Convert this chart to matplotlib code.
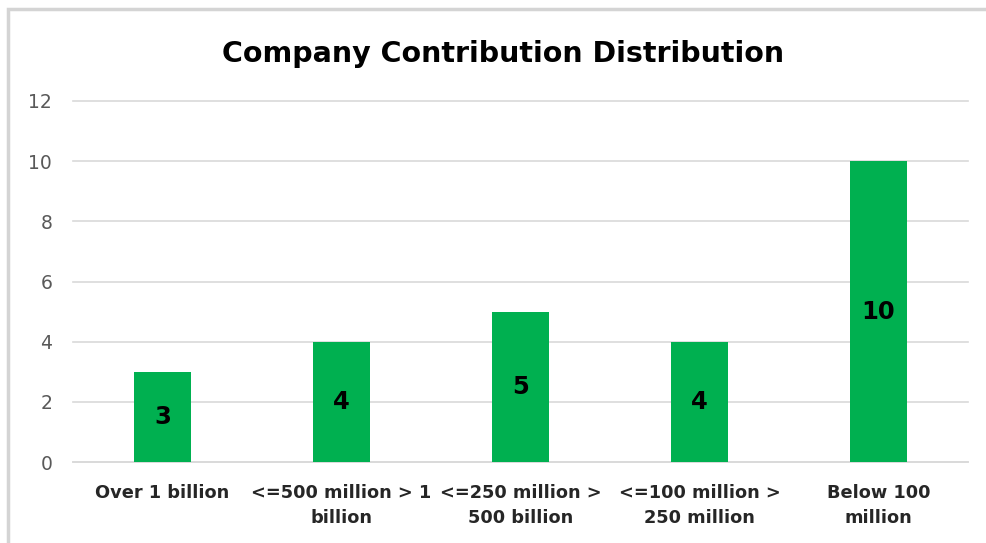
import matplotlib
matplotlib.use('Agg')
import matplotlib.pyplot as plt
from matplotlib.patches import Rectangle

# Data
categories = ['Over 1 billion', '<=500 million > 1\nbillion',
              '<=250 million >\n500 billion', '<=100 million >\n250 million',
              'Below 100\nmillion']
counts = [3, 4, 5, 4, 10]
y_ticks = [0, 2, 4, 6, 8, 10, 12]

bar_color = '#00B050'
grid_color = '#d9d9d9'

plt.rcParams['font.family'] = ['DejaVu Sans']

fig = plt.figure(figsize=(9.86, 5.43), dpi=100)
ax = fig.add_axes([73 / 986, 1 - 462 / 543, 895 / 986, 361 / 543])

x = range(len(categories))
bars = ax.bar(x, counts, width=0.32, color=bar_color, zorder=3)

for rect, v in zip(bars, counts):
    ax.text(rect.get_x() + rect.get_width() / 2, v / 2, str(v),
            ha='center', va='center', fontsize=17.5, fontweight='bold',
            color='black', zorder=4)

ax.set_xlim(-0.5, len(categories) - 0.5)
ax.set_ylim(0, 12)
ax.set_yticks(y_ticks)
ax.set_xticks(list(x))
ax.set_xticklabels(categories, fontsize=12.8, fontweight='bold',
                   color='#262626', linespacing=1.45)
ax.tick_params(axis='x', length=0, pad=16)
ax.tick_params(axis='y', length=0, pad=15, labelsize=13.5, labelcolor='#595959')

ax.grid(axis='y', color=grid_color, linewidth=1.2, zorder=0)
# keep the top gridline from being half clipped at the axes edge
for gl in ax.get_ygridlines():
    gl.set_clip_on(False)
for side in ['top', 'right', 'left']:
    ax.spines[side].set_visible(False)
ax.spines['bottom'].set_color(grid_color)
ax.spines['bottom'].set_linewidth(1.2)

fig.text(503 / 986, 1 - 62 / 543, 'Company Contribution Distribution',
         ha='center', va='baseline', fontsize=20.5, fontweight='bold',
         color='black')

# outer chart frame
fig.patches.append(Rectangle((8 / 986, -0.05), 1.2, 1 - 9 / 543 + 0.05,
                             transform=fig.transFigure, fill=False,
                             edgecolor='#d4d4d4', linewidth=2.5))

fig.savefig('out.png', dpi=100)
